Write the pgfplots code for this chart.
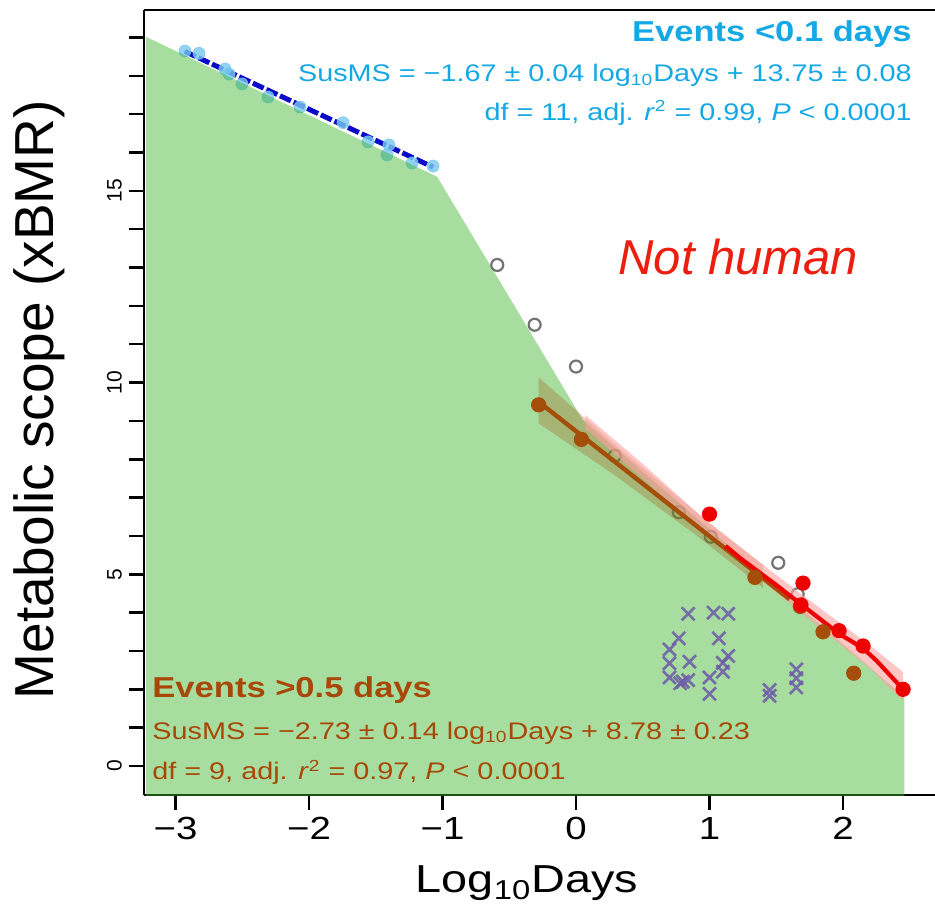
\documentclass[border=0pt]{standalone}
\usepackage{pgfplots}
\pgfplotsset{compat=1.18}
\usepackage{fontspec}
\setmainfont{Liberation Sans}
\newfontfamily\sfw{Liberation Sans}[FakeStretch=1.2]
\definecolor{cyanT}{RGB}{20,168,228}
\definecolor{brownT}{RGB}{168,72,8}
\definecolor{brownP}{RGB}{165,78,10}
\definecolor{redP}{RGB}{238,0,0}
\definecolor{redT}{RGB}{235,30,15}
\definecolor{crossC}{RGB}{110,90,170}
\definecolor{cyanP}{RGB}{120,200,238}
\definecolor{blueL}{RGB}{10,10,200}
\definecolor{greyC}{RGB}{115,115,115}
\definecolor{greenF}{RGB}{60,180,40}
\definecolor{pinkB}{RGB}{255,160,160}
\begin{document}
\begin{tikzpicture}
\begin{axis}[name=ax, scale only axis, width=395.5pt, height=392.5pt,
  xmin=-3.236, xmax=2.689, ymin=-0.757, ymax=19.72,
  axis x line=box, axis y line=left,
  axis line style={-, line width=1.4pt},
  tick align=outside, xtick pos=left, ytick pos=left,
  xtick={-3,-2,-1,0,1,2}, xticklabels={−3,−2,−1,0,1,2},
  ytick={0,5,10,15}, yticklabels={0,5,10,15},
  minor ytick={1,2,3,4,6,7,8,9,11,12,13,14,16,17,18,19},
  major tick length=7.5pt, minor tick length=7.5pt,
  major tick style={line width=1.2pt, black},
  minor tick style={line width=1.2pt, black},
  xticklabel style={font=\sfw\fontsize{16}{16}\selectfont},
  yticklabel style={font=\fontsize{10.5}{10.5}\selectfont, rotate=90, anchor=south},
  clip mode=individual]

% blue regression (events < 0.1 days)
\addplot[blueL, line width=2.5pt, dash pattern=on 6pt off 1.5pt] coordinates {(-2.93,18.64) (-1.07,15.62)};
% cyan points
\addplot[cyanP, only marks, mark=*, mark size=3pt, opacity=0.8] coordinates {
(-2.929,18.65) (-2.824,18.59) (-2.629,18.18) (-2.599,18.05) (-2.502,17.79) (-2.307,17.45) (-2.067,17.19)
(-1.745,16.78) (-1.558,16.28) (-1.401,16.20) (-1.416,15.94) (-1.228,15.73) (-1.071,15.65)};
% open circles
\addplot[greyC, only marks, mark=o, mark size=3pt, mark options={line width=1.1pt}] coordinates {
(-0.59,13.07) (-0.31,11.51) (0.0,10.42) (0.29,8.09) (0.77,6.62) (1.01,5.98) (1.515,5.30) (1.66,4.48)};
% green area
\addplot[draw=none, fill=greenF, fill opacity=0.45] coordinates {
(-3.22,-1) (-3.22,19.02) (-1.04,15.37) (0.05,9.03) (2.46,1.8) (2.46,-1)} -- cycle;
% brown confidence band
\addplot[draw=none, fill=brownP, fill opacity=0.28] coordinates {
(-0.28,10.14) (0.3,8.36) (0.9,6.62) (1.4,5.25)
(1.4,4.65) (0.9,6.02) (0.3,7.56) (-0.28,8.94)} -- cycle;
% pink band
\addplot[draw=none, fill=pinkB, fill opacity=0.6] coordinates {
(0.07,9.15) (0.5,7.88) (1.0,6.32) (1.7,4.45) (2.2,3.15) (2.45,2.45)
(2.45,1.7) (2.2,2.55) (1.7,3.95) (1.0,5.95) (0.5,7.5) (0.07,8.8)} -- cycle;
% brown regression
\addplot[brownP, line width=2.2pt] coordinates {(-0.28,9.50) (1.6,4.35)};
% red line
\addplot[redP, line width=2.1pt] coordinates {
(1.12,5.74) (1.23,5.42) (1.5,4.72) (1.685,4.22) (1.97,3.45) (2.15,3.07) (2.25,2.75) (2.45,2.0)};
% brown points
\addplot[brownP, only marks, mark=*, mark size=3.6pt] coordinates {
(-0.28,9.42) (0.04,8.52) (1.34,4.92) (1.68,4.16) (1.85,3.50) (2.08,2.42)};
% red points
\addplot[redP, only marks, mark=*, mark size=3.6pt] coordinates {
(1.0,6.57) (1.70,4.77) (1.685,4.20) (1.97,3.53) (2.15,3.13) (2.45,2.0)};
% crosses
\addplot[crossC, only marks, mark=x, mark size=4.6pt, mark options={line width=1.3pt}, opacity=0.85] coordinates {
(0.84,3.97) (1.03,4.0) (1.14,3.97) (0.77,3.33) (1.07,3.33) (0.70,3.04) (1.14,2.87) (0.85,2.72)
(0.70,2.68) (1.10,2.69) (1.10,2.46) (0.70,2.31) (0.78,2.16) (0.84,2.24) (0.80,2.20) (1.00,2.31)
(1.00,1.88) (1.45,1.98) (1.45,1.83) (1.65,2.52) (1.65,2.29) (1.65,2.05)};

% annotations
\node[anchor=base east, text=cyanT, font=\sfw\bfseries\fontsize{14.4}{14.4}\selectfont, inner sep=0pt] at (axis cs:2.517,18.888) {Events <0.1 days};
\node[anchor=base east, text=cyanT, font=\sfw\fontsize{12}{12}\selectfont, inner sep=0pt] at (axis cs:2.517,17.845) {SusMS = −1.67 ± 0.04 log\textsubscript{10}Days + 13.75 ± 0.08};
\node[anchor=base east, text=cyanT, font=\sfw\fontsize{12}{12}\selectfont, inner sep=0pt] at (axis cs:2.517,16.85) {df = 11, adj. \textit{r}\textsuperscript{2} = 0.99, \textit{P} < 0.0001};
\node[anchor=base west, text=brownT, font=\sfw\bfseries\fontsize{14.4}{14.4}\selectfont, inner sep=0pt] at (axis cs:-3.176,1.774) {Events >0.5 days};
\node[anchor=base west, text=brownT, font=\sfw\fontsize{12}{12}\selectfont, inner sep=0pt] at (axis cs:-3.176,0.704) {SusMS = −2.73 ± 0.14 log\textsubscript{10}Days + 8.78 ± 0.23};
\node[anchor=base west, text=brownT, font=\sfw\fontsize{12}{12}\selectfont, inner sep=0pt] at (axis cs:-3.176,-0.365) {df = 9, adj. \textit{r}\textsuperscript{2} = 0.97, \textit{P} < 0.0001};
\node[anchor=base west, text=redT, font=\itshape\fontsize{24.5}{24.5}\selectfont, inner sep=0pt] at (axis cs:0.315,12.81) {Not human};

% axis labels
\node[anchor=base, font=\sfw\fontsize{19.5}{19.5}\selectfont, inner sep=0pt] at (rel axis cs:0.484,-0.1248) {Log\textsubscript{10}Days};
\node[anchor=base, rotate=90, font=\fontsize{27.5}{27.5}\selectfont, inner sep=0pt] at (rel axis cs:-0.115,0.5035) {Metabolic scope (xBMR)};
\end{axis}
\pgfresetboundingbox
\path[use as bounding box] ([shift={(-72pt,-58.5pt)}]ax.south west) rectangle ([shift={(0pt,5pt)}]ax.north east);
\end{tikzpicture}
\end{document}
